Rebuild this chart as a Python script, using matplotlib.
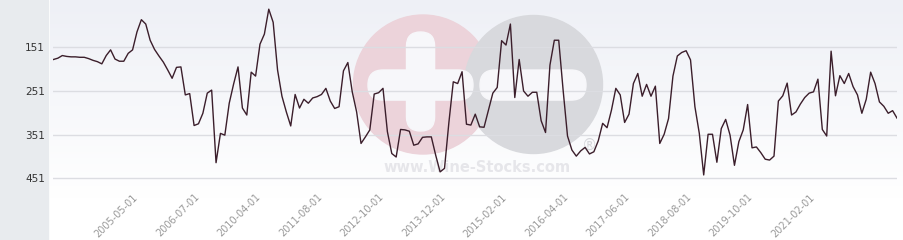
import numpy as np
import matplotlib.pyplot as plt
from matplotlib.patches import Circle, Rectangle, FancyBboxPatch
from matplotlib.colors import LinearSegmentedColormap

# rank values (lower rank = higher on the chart)
ranks = [179, 176, 170, 172, 173, 173, 174, 174, 177, 181,
         184, 189, 170, 157, 178, 183, 183, 165, 157, 116,
         88, 98, 135, 156, 171, 185, 203, 222, 197, 196,
         260, 257, 330, 326, 302, 256, 249, 415, 348, 352,
         279, 235, 196, 290, 306, 208, 217, 144, 121, 64,
         94, 203, 263, 299, 331, 259, 290, 270, 279, 267,
         264, 259, 245, 274, 291, 287, 205, 186, 253, 299,
         371, 356, 340, 258, 255, 245, 344, 394, 402, 339,
         340, 343, 375, 372, 357, 356, 356, 398, 436, 428,
         323, 230, 234, 207, 327, 329, 304, 333, 334, 295,
         256, 243, 136, 146, 98, 266, 179, 251, 263, 254,
         254, 319, 346, 192, 135, 135, 249, 354, 386, 400,
         388, 380, 395, 390, 365, 325, 335, 295, 245, 260,
         323, 304, 234, 211, 263, 236, 263, 240, 371, 350,
         314, 217, 171, 163, 159, 180, 287, 348, 443, 350,
         350, 414, 337, 316, 352, 421, 367, 340, 282, 381,
         379, 392, 407, 409, 400, 274, 262, 233, 306, 299,
         281, 266, 256, 253, 224, 339, 354, 160, 262, 216,
         234, 211, 241, 260, 302, 270, 208, 234, 276, 286,
         302, 296, 313]

tick_labels = ['2005-05-01', '2006-07-01', '2010-04-01', '2011-08-01',
               '2012-10-01', '2013-12-01', '2015-02-01', '2016-04-01',
               '2017-06-01', '2018-08-01', '2019-10-01', '2021-02-01']
y_ticks = [151, 251, 351, 451]

W, H = 904, 240
fig = plt.figure(figsize=(W / 100, H / 100), dpi=100)

# background layer in pixel coords
bg = fig.add_axes([0, 0, 1, 1])
bg.axis('off')
cmap = LinearSegmentedColormap.from_list('bgc', ['#eef0f6', '#ffffff'])
bg.imshow(np.linspace(0, 1, 100)[:, None], extent=[50, W, 200, 0],
          cmap=cmap, aspect='auto', zorder=0)
bg.add_patch(Rectangle((0, 0), 48, H, color='#e8ebee', zorder=1))

# watermark
bg.add_patch(Circle((423, 84.5), 69.5, color='#ecd3da', zorder=2))
bg.add_patch(Circle((533.5, 84.5), 69, color='#d8d9dd', zorder=2))
bg.add_patch(FancyBboxPatch((406.5 + 14, 32 + 14), 0.1, 99 - 28,
                            boxstyle='round,pad=14', color='#f7f7fa', zorder=3))
bg.add_patch(FancyBboxPatch((368 + 15, 70 + 15), 105 - 30, 0.1,
                            boxstyle='round,pad=15', color='#f7f7fa', zorder=3))
bg.add_patch(FancyBboxPatch((480 + 15, 70 + 15), 106 - 30, 0.1,
                            boxstyle='round,pad=15', color='#f7f7fa', zorder=3))
bg.text(477, 167, 'www.Wine-Stocks.com', ha='center', va='center',
        fontsize=10.5, fontweight='bold', color='#e6e6ea', zorder=3)
bg.text(590, 145, '\u00ae', ha='center', va='center', fontsize=11,
        color='#d6d7db', zorder=3)
bg.set_xlim(0, W)
bg.set_ylim(H, 0)

ax = fig.add_axes([53.5 / W, 1 - 192 / H, (897 - 53.5) / W, 192 / H])
ax.patch.set_alpha(0)
x = np.arange(len(ranks))
ax.plot(x, ranks, color='#3b1e2b', lw=1.0, zorder=3)
ax.set_xlim(0, len(ranks) - 1)
ax.set_ylim(482, 43)
ax.set_yticks(y_ticks)
ax.set_yticklabels([str(v) for v in y_ticks], fontsize=7.5, color='#333333')
ax.grid(axis='y', color='#dcdde2', lw=1)
ax.set_xticks([18 + 14 * k for k in range(len(tick_labels))])
ax.set_xticklabels(tick_labels, rotation=45, ha='right', va='top',
                   rotation_mode='anchor', fontsize=7, color='#999999')
ax.tick_params(axis='y', length=0, pad=6)
ax.tick_params(axis='x', length=0, pad=0)
for s in ax.spines.values():
    s.set_visible(False)

fig.savefig('out.png', dpi=100)
